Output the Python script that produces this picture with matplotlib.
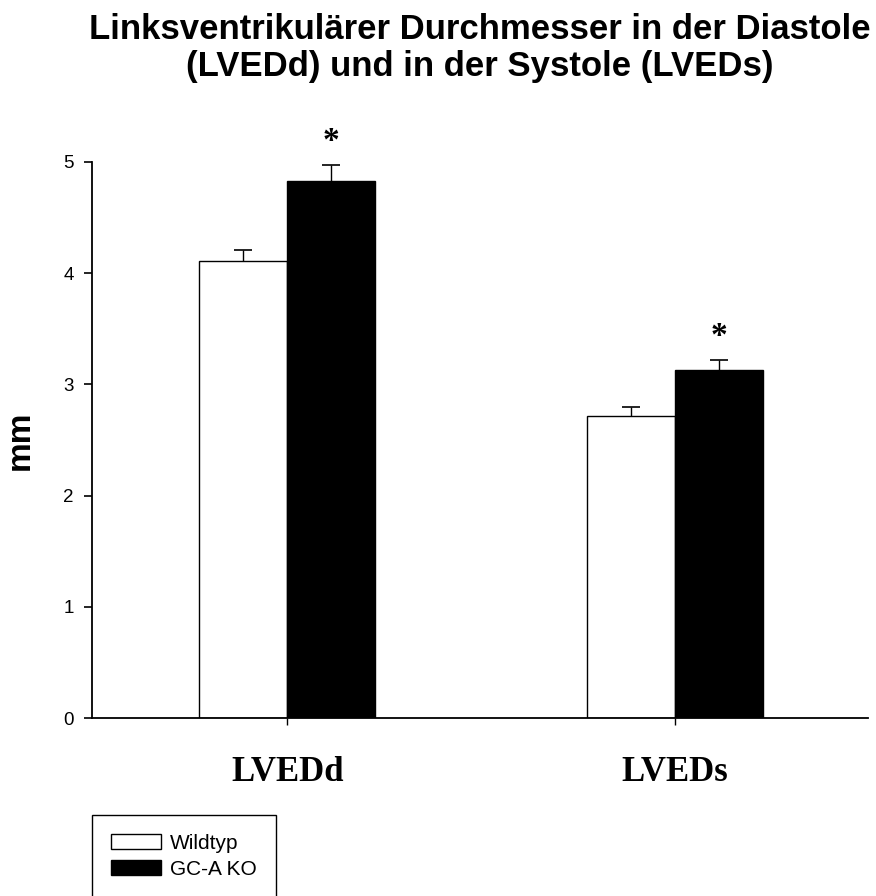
import numpy as np
import matplotlib.pyplot as plt
from matplotlib.patches import Patch

# values (mm)
groups = ["LVEDd", "LVEDs"]
series = ["Wildtyp", "GC-A KO"]
wildtyp = [4.11, 2.72]
wildtyp_err = [0.10, 0.08]
gcako = [4.83, 3.13]
gcako_err = [0.14, 0.09]
signif = [True, True]   # star over GC-A KO

sans = "Liberation Sans"
serif = "Liberation Serif"

fig = plt.figure(figsize=(8.76, 8.96), dpi=100)
ax = fig.add_axes([92/876, 178/896, 776/876, 556/896])

x = np.arange(len(groups))
w = 0.227

ax.bar(x - w/2, wildtyp, w, color="white", edgecolor="black", linewidth=1.0, zorder=2)
ax.bar(x + w/2, gcako, w, color="black", edgecolor="black", linewidth=1.0, zorder=2)

# only upper whiskers, no cap at the bar top
for xs, m, e in [(x - w/2, wildtyp, wildtyp_err), (x + w/2, gcako, gcako_err)]:
    _, caps, _ = ax.errorbar(xs, m, yerr=[np.zeros(len(m)), e], fmt="none",
                             ecolor="black", elinewidth=1.0, capsize=6.5,
                             capthick=1.2, zorder=3)
    caps[0].set_visible(False)

for i in range(len(groups)):
    if signif[i]:
        ax.text(x[i] + w/2, gcako[i] + gcako_err[i] + 0.21, "*", ha="center", va="center",
                fontsize=24, fontfamily=serif, fontweight="bold", clip_on=False)

ax.set_xlim(-0.503, 1.497)
ax.set_ylim(0, 5)
ax.set_yticks([0, 1, 2, 3, 4, 5])
ax.set_xticks(x)
ax.set_xticklabels(groups, fontfamily=serif, fontweight="bold", fontsize=25)
for lab in ax.get_yticklabels():
    lab.set_fontfamily(sans)
    lab.set_fontsize(13.5)

ax.spines["top"].set_visible(False)
ax.spines["right"].set_visible(False)
ax.spines["left"].set_linewidth(1.3)
ax.spines["bottom"].set_linewidth(1.3)
ax.tick_params(axis="y", direction="out", length=6, width=1.2, pad=7)
ax.tick_params(axis="x", direction="out", length=5, width=1.0, pad=22)

ax.set_ylabel("mm", fontfamily=sans, fontweight="bold", fontsize=24)
ax.yaxis.set_label_coords(-0.072, 0.5)

fig.text(480/876, 1 - 13/896,
         "Linksventrikulärer Durchmesser in der Diastole\n(LVEDd) und in der Systole (LVEDs)",
         ha="center", va="top", fontfamily=sans, fontweight="bold", fontsize=25,
         linespacing=1.17)

handles = [Patch(facecolor="white", edgecolor="black", linewidth=1.0),
           Patch(facecolor="black", edgecolor="black", linewidth=1.0)]
leg = fig.legend(handles, series, loc="upper left",
                 bbox_to_anchor=(92/876, 1 - 815/896),
                 prop={"family": sans, "size": 15},
                 frameon=True, fancybox=False, framealpha=1, edgecolor="black",
                 borderpad=0.9, borderaxespad=0, handlelength=2.4,
                 handleheight=0.7, labelspacing=0.35, handletextpad=0.45)
leg.get_frame().set_linewidth(1.0)

fig.savefig("out.png", dpi=100)
